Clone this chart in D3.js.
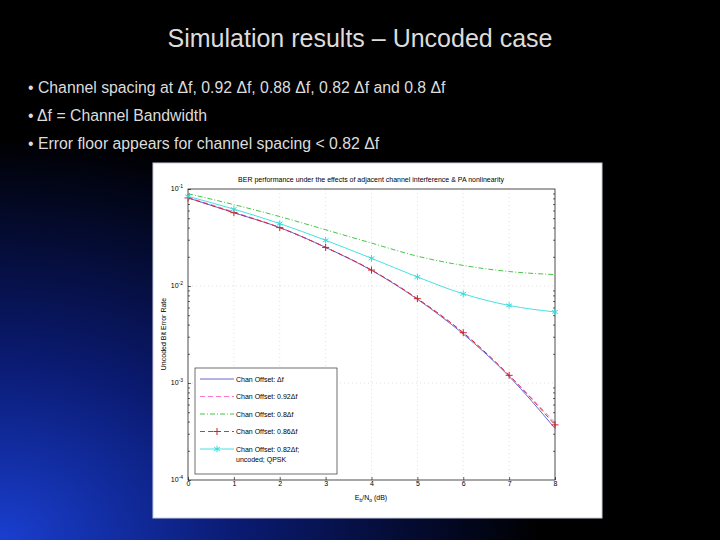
<!DOCTYPE html>
<html><head><meta charset="utf-8">
<script src="https://cdn.jsdelivr.net/npm/d3@7"></script>
<style>body{margin:0;background:#000}svg{display:block}</style>
</head><body>
<svg id="c" width="720" height="540"></svg>
<script>
var xs = [0, 1, 2, 3, 4, 5, 6, 7, 8];
var berDf  = [0.081, 0.057, 0.040, 0.025, 0.0145, 0.0073, 0.0032, 0.00117, 0.00034];
var ber092 = [0.082, 0.058, 0.040, 0.025, 0.0146, 0.0074, 0.0033, 0.00120, 0.00039];
var ber080 = [0.0895, 0.069, 0.052, 0.038, 0.0277, 0.0203, 0.0163, 0.0141, 0.0131];
var ber086 = [0.081, 0.057, 0.040, 0.025, 0.0146, 0.0074, 0.0033, 0.00120, 0.00037];
var ber082 = [0.084, 0.062, 0.044, 0.0296, 0.0193, 0.0124, 0.0083, 0.0063, 0.0054];
var yTicks = [1e-1, 1e-2, 1e-3, 1e-4];
var bullets = ["• Channel spacing at Δf, 0.92 Δf, 0.88 Δf, 0.82 Δf and 0.8 Δf",
  "• Δf = Channel Bandwidth",
  "• Error floor appears for channel spacing < 0.82 Δf"];

var svg = d3.select("#c");
var defs = svg.append("defs");
var g1 = defs.append("radialGradient").attr("id", "bg").attr("cx", "0").attr("cy", "1").attr("r", "0.75");
g1.append("stop").attr("offset", "0").attr("stop-color", "#1a3fd0");
g1.append("stop").attr("offset", "0.45").attr("stop-color", "#0a1a70");
g1.append("stop").attr("offset", "1").attr("stop-color", "#000");
svg.append("rect").attr("width", 720).attr("height", 540).attr("fill", "#000");
svg.append("rect").attr("width", 720).attr("height", 540).attr("fill", "url(#bg)");

svg.append("text").attr("x", 360).attr("y", 47).attr("text-anchor", "middle")
  .attr("font-family", "Liberation Sans, Arial").attr("font-size", 25).attr("fill", "#dcdcdc")
  .text("Simulation results – Uncoded case");
svg.selectAll(".b").data(bullets).enter().append("text")
  .attr("x", 28).attr("y", function(d, i) { return 93 + i * 28; })
  .attr("font-family", "Liberation Sans, Arial").attr("font-size", 15.8).attr("fill", "#dcdcdc")
  .text(function(d) { return d; });

// embedded figure
svg.append("rect").attr("x", 153).attr("y", 163).attr("width", 449).attr("height", 355)
  .attr("fill", "#fff").attr("stroke", "#ccd").attr("stroke-width", 1);

var x = d3.scaleLinear().domain([0, 8]).range([188, 555]);
var y = d3.scaleLog().domain([1e-4, 1e-1]).range([480, 189]);
var plot = svg.append("g");
var font = "Liberation Sans, Arial";

// grid
var minor = [];
for (var e = -4; e < -1; e++) for (var k = 2; k < 10; k++) minor.push(k * Math.pow(10, e));
plot.selectAll(".gx").data(xs.slice(1, 8)).enter().append("line")
  .attr("x1", x).attr("x2", x).attr("y1", 189).attr("y2", 480)
  .attr("stroke", "#ccc").attr("stroke-dasharray", "1,3").attr("stroke-width", 0.6);
plot.selectAll(".gy").data(yTicks.slice(1, 3)).enter().append("line")
  .attr("x1", 188).attr("x2", 555).attr("y1", y).attr("y2", y)
  .attr("stroke", "#ccc").attr("stroke-dasharray", "1,3").attr("stroke-width", 0.6);

plot.append("rect").attr("x", 188).attr("y", 189).attr("width", 367).attr("height", 291)
  .attr("fill", "none").attr("stroke", "#000").attr("stroke-width", 0.7);

var ax = plot.append("g").attr("transform", "translate(0,480)")
  .call(d3.axisBottom(x).tickValues(xs).tickSize(-3).tickFormat(d3.format("d")));
plot.append("g").attr("transform", "translate(188,0)")
  .call(d3.axisLeft(y).tickValues(yTicks).tickSize(-3).tickFormat(""));
plot.append("g").attr("transform", "translate(188,0)")
  .call(d3.axisLeft(y).tickValues(minor).tickSize(-2).tickFormat(""));
plot.append("g").attr("transform", "translate(555,0)")
  .call(d3.axisRight(y).tickValues(minor).tickSize(-2).tickFormat(""));
plot.selectAll(".domain").remove();
plot.selectAll(".tick line").attr("stroke", "#000").attr("stroke-width", 0.6);
ax.selectAll("text").attr("font-size", 7).attr("font-family", font).attr("dy", "0.4em");

var ylab = plot.selectAll(".yl").data(yTicks).enter().append("text")
  .attr("x", 183).attr("y", function(d) { return y(d) + 2; }).attr("text-anchor", "end")
  .attr("font-size", 7).attr("font-family", font);
ylab.append("tspan").text("10");
ylab.append("tspan").attr("dy", -3).attr("font-size", 5)
  .text(function(d) { return Math.round(Math.log10(d)); });

svg.append("text").attr("x", 371).attr("y", 182).attr("text-anchor", "middle")
  .attr("font-size", 7).attr("font-family", font).text("BER performance under the effects of adjacent channel interference & PA nonlinearity");
var xl = svg.append("text").attr("x", 371).attr("y", 500).attr("text-anchor", "middle")
  .attr("font-size", 7).attr("font-family", font);
xl.append("tspan").text("E");
xl.append("tspan").attr("font-size", 5).attr("dy", 2).text("b");
xl.append("tspan").attr("dy", -2).text("/N");
xl.append("tspan").attr("font-size", 5).attr("dy", 2).text("o");
xl.append("tspan").attr("dy", -2).text(" (dB)");
svg.append("text").attr("transform", "translate(166,334) rotate(-90)").attr("text-anchor", "middle")
  .attr("font-size", 7).attr("font-family", font).text("Uncoded Bit Error Rate");

var plusPath = "M-3.5,0H3.5M0,-3.5V3.5";
var series = [
  { v: berDf, c: "#5555cc", dash: null, m: null },
  { v: ber092, c: "#ff66cc", dash: "5,3", m: null },
  { v: ber080, c: "#33bb33", dash: "5,2,1,2", m: null },
  { v: ber086, c: "#cc2222", dash: "5,3", m: "plus" },
  { v: ber082, c: "#33dddd", dash: null, m: "star" }
];
var line = d3.line().x(function(d, i) { return x(xs[i]); }).y(function(d) { return y(d); }).curve(d3.curveMonotoneX);
function marker(sel, s) {
  if (s.m == "plus") sel.attr("d", plusPath).attr("fill", "none");
  else sel.attr("d", d3.symbol().type(d3.symbolAsterisk).size(30)).attr("fill", s.c);
  sel.attr("stroke", s.c).attr("stroke-width", 1);
}
series.forEach(function(s) {
  plot.append("path").attr("d", line(s.v)).attr("fill", "none").attr("stroke", s.c)
    .attr("stroke-width", 0.9).attr("stroke-dasharray", s.dash);
  if (s.m) plot.selectAll(null).data(s.v).enter().append("path")
    .attr("transform", function(d, i) { return "translate(" + x(xs[i]) + "," + y(d) + ")"; })
    .call(marker, s);
});

// legend
var lg = svg.append("g");
lg.append("rect").attr("x", 195).attr("y", 368).attr("width", 142).attr("height", 106)
  .attr("fill", "#fff").attr("stroke", "#333").attr("stroke-width", 0.7);
var labels = ["Chan Offset: Δf", "Chan Offset: 0.92Δf", "Chan Offset: 0.8Δf", "Chan Offset: 0.86Δf", "Chan Offset: 0.82Δf;"];
labels.forEach(function(t, i) {
  var yy = 379 + i * 17.5;
  var s = series[i];
  lg.append("line").attr("x1", 200).attr("x2", 234).attr("y1", yy).attr("y2", yy)
    .attr("stroke", s.c).attr("stroke-width", 0.9).attr("stroke-dasharray", s.dash);
  if (s.m) lg.append("path").attr("transform", "translate(217," + yy + ")").call(marker, s);
  lg.append("text").attr("x", 236).attr("y", yy + 2.5).attr("font-size", 7).attr("font-family", font).text(t);
});
lg.append("text").attr("x", 236).attr("y", 462).attr("font-size", 7).attr("font-family", font).text("uncoded; QPSK");
</script>
</body></html>
